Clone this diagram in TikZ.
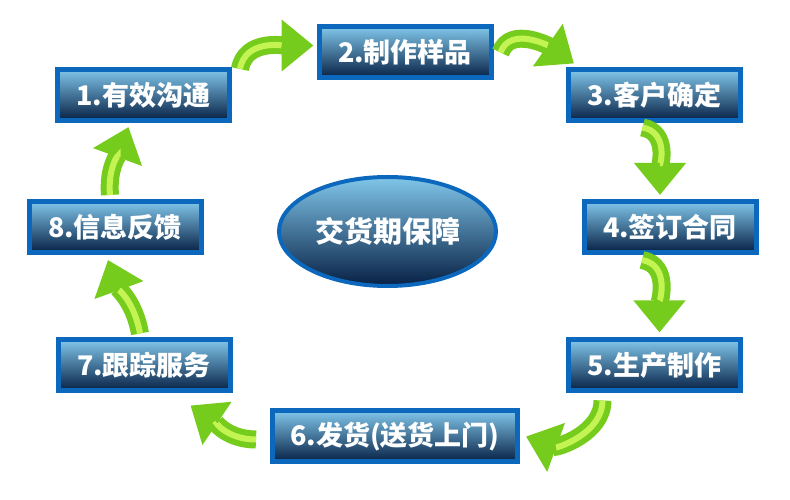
\documentclass[tikz,border=0pt]{standalone}
\usepackage{fontspec}
\newfontfamily\cjk{Noto Sans CJK SC}
\usetikzlibrary{arrows.meta,calc,positioning,shapes.geometric}
\definecolor{rimblue}{RGB}{12,104,188}
\definecolor{skyblue}{RGB}{128,198,234}
\definecolor{midblue}{RGB}{32,92,148}
\definecolor{navyblue}{RGB}{6,32,68}
\definecolor{leafgreen}{RGB}{118,204,28}
\definecolor{limegreen}{RGB}{196,244,84}
\tikzset{
  stage/.style = {draw=rimblue, line width=5pt, minimum width=172pt, minimum height=51pt,
                  top color=skyblue, middle color=midblue, bottom color=navyblue,
                  text=white, font=\cjk\bfseries\fontsize{27}{30}\selectfont, inner sep=0pt},
  hub/.style   = {ellipse, draw=rimblue, line width=4pt, minimum width=217pt, minimum height=109pt,
                  top color=skyblue, middle color=midblue, bottom color=navyblue,
                  text=white, font=\cjk\bfseries\fontsize{29}{32}\selectfont},
  garrow/.style = {leafgreen, line width=18pt, -{Triangle[width=50pt,length=32pt]},
                   postaction={draw=limegreen, line width=6pt, arrows=-, shorten >=32pt}},
}
\begin{document}
\begin{tikzpicture}[x=1pt,y=1pt]
  \useasboundingbox (0,0) rectangle (790,500);
  % stages round the loop
  \node[stage] (s1) at (143.5,405) {1.有效沟通};
  \node[stage] (s2) at (405,447.5) {2.制作样品};
  \node[stage] (s3) at (654.5,404.5) {3.客户确定};
  \node[stage] (s4) at (670,273) {4.签订合同};
  \node[stage] (s5) at (654.5,134.5) {5.生产制作};
  \node[stage, minimum width=245pt] (s6) at (395,63.5) {6.发货(送货上门)};
  \node[stage] (s7) at (144,134.5) {7.跟踪服务};
  \node[stage] (s8) at (115,273) {8.信息反馈};
  \node[hub] (hub) at (387.5,268.5) {交货期保障};
  % green arrows
  \draw[garrow] ($(s1.north east)+(8,-2)$) to[out=80,in=180] ($(s2.west)+(-3,7)$);
  \draw[garrow] ($(s2.east)+(7,0)$) to[out=70,in=145] ($(s3.north west)+(8,4)$);
  \draw[garrow] ($(s3.south)+(-12,-4)$) to[out=-10,in=90] ($(s4.north)+(-10,4)$);
  \draw[garrow] ($(s4.south)+(-28,-5)$) to[out=-10,in=90] ($(s5.north)+(5,5)$);
  \draw[garrow] ($(s5.south)+(-52,-7)$) to[out=-90,in=-20] ($(s6.east)+(6,0)$);
  \draw[garrow] ($(s6.west)+(-14,-3)$) to[out=180,in=-34] ($(s7.south east)+(-42,-12)$);
  \draw[garrow] ($(s7.north)+(-4,4)$) to[out=100,in=-70] ($(s8.south)+(-7,-5)$);
  \draw[garrow] ($(s8.north)+(-5,4)$) to[out=95,in=-110] ($(s1.south)+(-15,-4)$);
\end{tikzpicture}
\end{document}
